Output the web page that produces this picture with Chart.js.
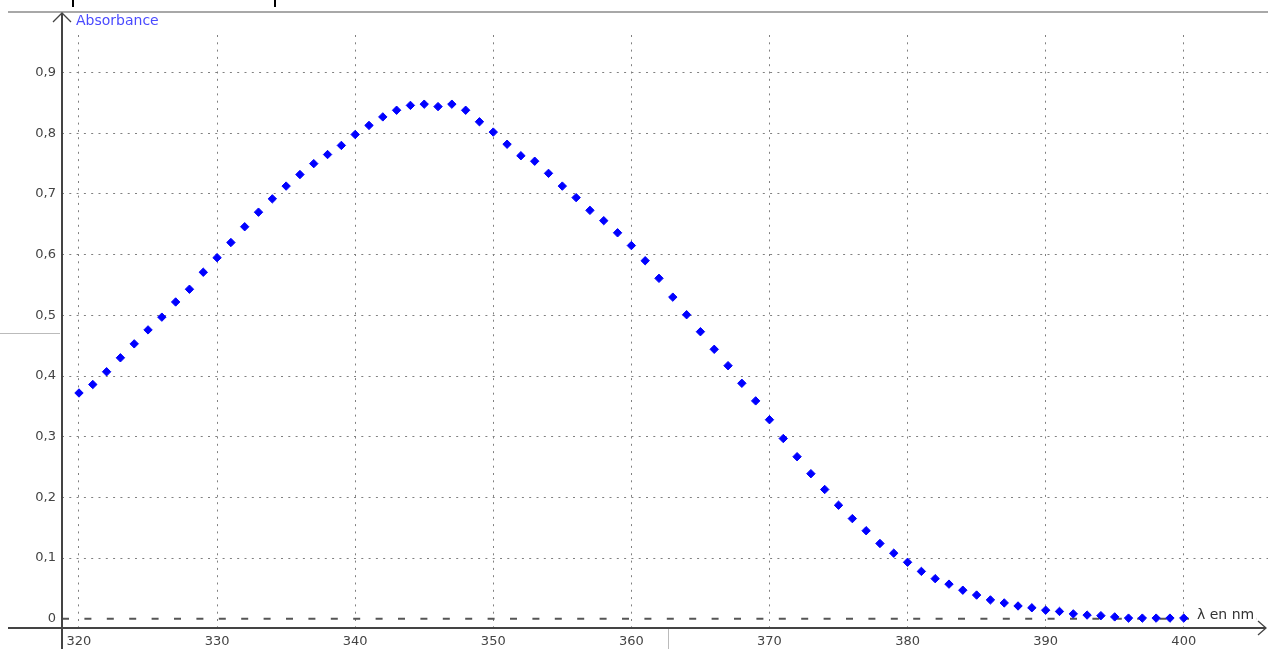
<!DOCTYPE html>
<html>
<head>
<meta charset="utf-8">
<script src="https://cdn.jsdelivr.net/npm/chart.js@4"></script>
<style>
  html, body { margin: 0; padding: 0; background: #fff; }
  canvas { display: block; }
</style>
</head>
<body>
<canvas id="canvas" width="1268" height="649"></canvas>
<script>
// wavelengths (nm) and absorbance
var lambdas = [];
for (var i = 320; i <= 400; i++) lambdas.push(i);
var absorb = [
  0.372, 0.386, 0.407, 0.430, 0.453, 0.476, 0.497, 0.522, 0.543, 0.571,
  0.595, 0.620, 0.646, 0.670, 0.692, 0.713, 0.732, 0.750, 0.765, 0.780,
  0.798, 0.813, 0.827, 0.838, 0.846, 0.848, 0.844, 0.848, 0.838, 0.819,
  0.802, 0.782, 0.763, 0.754, 0.734, 0.713, 0.694, 0.673, 0.656, 0.636,
  0.615, 0.590, 0.561, 0.530, 0.501, 0.473, 0.444, 0.417, 0.388, 0.359,
  0.328, 0.297, 0.267, 0.239, 0.213, 0.187, 0.165, 0.145, 0.124, 0.108,
  0.093, 0.078, 0.066, 0.057, 0.047, 0.039, 0.031, 0.026, 0.021, 0.018,
  0.014, 0.012, 0.008, 0.006, 0.005, 0.003, 0.001, 0.001, 0.001, 0.001,
  0.001
];
var xTicks = [320, 330, 340, 350, 360, 370, 380, 390, 400];
var yTicks = [0, 0.1, 0.2, 0.3, 0.4, 0.5, 0.6, 0.7, 0.8, 0.9];
var xMin = 318.77, xMax = 406.1;
var yMin = -0.0153, yMax = 0.962;

var points = lambdas.map(function(l, k){ return {x: l, y: absorb[k]}; });

var decor = {
  id: 'decor',
  beforeDraw: function(chart){
    var c = chart.ctx;
    c.save();
    c.fillStyle = '#fff';
    c.fillRect(0, 0, chart.width, chart.height);
    c.restore();
  },
  afterDraw: function(chart){
    var c = chart.ctx;
    var sx = chart.scales.x, sy = chart.scales.y;
    var ax = sx.getPixelForValue(xMin);
    var ay = sy.getPixelForValue(yMin);
    var y0 = sy.getPixelForValue(0);
    c.save();
    // top frame line and window bits
    c.strokeStyle = '#a8a8a8';
    c.lineWidth = 2;
    c.beginPath(); c.moveTo(8, 12); c.lineTo(chart.width, 12); c.stroke();
    c.lineWidth = 1;
    c.strokeStyle = '#bbb';
    c.beginPath(); c.moveTo(0, 333.5); c.lineTo(ax - 2, 333.5); c.stroke();
    c.beginPath(); c.moveTo(668.5, ay); c.lineTo(668.5, chart.height); c.stroke();
    c.strokeStyle = '#000';
    c.lineWidth = 2;
    c.beginPath(); c.moveTo(73, 0); c.lineTo(73, 7); c.stroke();
    c.beginPath(); c.moveTo(275, 0); c.lineTo(275, 7); c.stroke();
    // axes
    c.strokeStyle = '#444';
    c.lineWidth = 2;
    c.beginPath(); c.moveTo(ax, 13); c.lineTo(ax, chart.height); c.stroke();
    c.beginPath(); c.moveTo(8, ay); c.lineTo(chart.width - 2, ay); c.stroke();
    c.lineWidth = 1.3;
    c.beginPath(); c.moveTo(ax - 9, 22); c.lineTo(ax, 13); c.lineTo(ax + 9, 22); c.stroke();
    c.beginPath(); c.moveTo(chart.width - 10, ay - 7); c.lineTo(chart.width - 2, ay); c.lineTo(chart.width - 10, ay + 7); c.stroke();
    // axis titles
    c.font = '14px "DejaVu Sans"';
    c.textBaseline = 'middle';
    c.textAlign = 'left';
    c.fillStyle = '#4a4aff';
    c.fillText('Absorbance', ax + 14, 21);
    var t = '\u03bb en nm';
    var w = c.measureText(t).width;
    c.fillStyle = '#fff';
    c.fillRect(1194, y0 - 11, w + 5, 16);
    c.fillStyle = '#333';
    c.fillText(t, 1197, y0 - 3);
    c.restore();
  }
};

var ctx = document.getElementById('canvas');
var myChart = new Chart(ctx, {
  type: 'line',
  data: {
    datasets: [{
      data: points,
      showLine: false,
      pointStyle: 'rectRot',
      pointRadius: 4.2,
      pointBorderWidth: 1,
      pointBackgroundColor: '#0000ff',
      pointBorderColor: '#0000ff'
    }, {
      data: [{x: xMin, y: 0}, {x: xMax, y: 0}],
      borderColor: '#555',
      borderWidth: 2,
      borderDash: [7, 15.4],
      pointRadius: 0
    }]
  },
  options: {
    responsive: false,
    devicePixelRatio: 1,
    animation: false,
    layout: { autoPadding: false, padding: { top: 35, left: 0, right: 0, bottom: 0 } },
    plugins: { legend: { display: false }, tooltip: { enabled: false } },
    scales: {
      x: {
        type: 'linear',
        min: xMin,
        max: xMax,
        afterBuildTicks: function(scale){ scale.ticks = xTicks.map(function(v){ return {value: v}; }); },
        afterFit: function(scale){
          scale.height = 21;
          scale.paddingLeft = 0;
          scale.paddingRight = 0;
        },
        grid: { color: '#808080', lineWidth: 1, drawTicks: false },
        border: { display: false, dash: [2, 5.3] },
        ticks: {
          maxRotation: 0,
          padding: 6,
          color: '#444',
          font: { family: 'DejaVu Sans', size: 13 },
          callback: function(v){ return String(v); }
        }
      },
      y: {
        type: 'linear',
        min: yMin,
        max: yMax,
        afterBuildTicks: function(scale){ scale.ticks = yTicks.map(function(v){ return {value: v}; }); },
        afterFit: function(scale){
          scale.width = 62;
          scale.paddingTop = 0;
          scale.paddingBottom = 0;
        },
        grid: {
          color: function(c){ return c.tick && c.tick.value === 0 ? 'rgba(0,0,0,0)' : '#808080'; },
          lineWidth: 1,
          drawTicks: false
        },
        border: { display: false, dash: [2, 5.3] },
        ticks: {
          padding: 6,
          color: '#444',
          font: { family: 'DejaVu Sans', size: 13 },
          callback: function(v){ return v === 0 ? '0' : v.toFixed(1).replace('.', ','); }
        }
      }
    }
  },
  plugins: [decor]
});
</script>
</body>
</html>
